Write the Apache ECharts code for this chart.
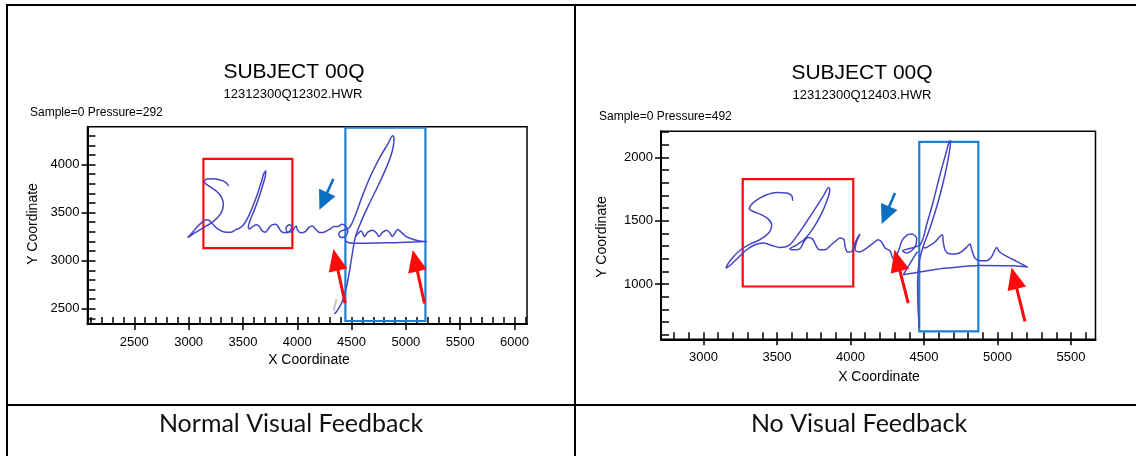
<!DOCTYPE html>
<html><head><meta charset="utf-8">
<script src="https://cdn.jsdelivr.net/npm/echarts@6/dist/echarts.min.js"></script>
<style>html,body{margin:0;padding:0;background:#fff}#c{width:1136px;height:456px}</style>
</head><body><div id="c"></div>
<script>
// ---- Tick values ----
const leftMajorX = [2500, 3000, 3500, 4000, 4500, 5000, 5500, 6000];
const leftMinorX = [2100,2200,2300,2400,2500,2600,2700,2800,2900,3000,3100,3200,3300,3400,3500,3600,3700,3800,3900,4000,4100,4200,4300,4400,4500,4600,4700,4800,4900,5000,5100,5200,5300,5400,5500,5600,5700,5800,5900,6000,6100];
const leftMajorY = [2500, 3000, 3500, 4000];
const leftMinorY = [2400,2500,2600,2700,2800,2900,3000,3100,3200,3300,3400,3500,3600,3700,3800,3900,4000,4100,4200,4300];
const rightMajorX = [3000, 3500, 4000, 4500, 5000, 5500];
const rightMinorX = [2800,2900,3000,3100,3200,3300,3400,3500,3600,3700,3800,3900,4000,4100,4200,4300,4400,4500,4600,4700,4800,4900,5000,5100,5200,5300,5400,5500,5600];
const rightMajorY = [1000, 1500, 2000];
const rightMinorY = [600,700,800,900,1000,1100,1200,1300,1400,1500,1600,1700,1800,1900,2000,2100,2200];

// ---- Signature strokes (data units) ----
const leftStroke1 = [[3369,3778],[3338,3817],[3283,3841],[3221,3851],[3166,3848],[3145,3823],[3160,3796],[3216,3754],[3267,3712],[3304,3656],[3320,3588],[3308,3518],[3267,3448],[3206,3390],[3129,3338],[3053,3285],[3000,3244],[2991,3240],[3016,3268],[3068,3338],[3114,3390],[3160,3424],[3191,3417],[3221,3382],[3267,3330],[3329,3299],[3391,3296],[3435,3322],[3470,3338],[3504,3370],[3550,3458],[3596,3580],[3636,3702],[3670,3820],[3691,3903],[3710,3935],[3705,3875],[3679,3771],[3645,3650],[3605,3528],[3568,3424],[3550,3354],[3559,3330],[3590,3354],[3624,3372],[3651,3354],[3676,3309],[3707,3296],[3737,3338],[3768,3372],[3805,3379],[3829,3344],[3854,3302],[3891,3289],[3928,3302],[3949,3354],[3928,3372],[3897,3344],[3907,3299],[3946,3299],[3976,3344],[3992,3361],[4001,3320],[4035,3289],[4075,3302],[4105,3344],[4139,3361],[4167,3330],[4197,3296],[4234,3292],[4271,3309],[4305,3330],[4336,3354],[4372,3354],[4413,3379],[4450,3354],[4465,3302],[4443,3250],[4404,3240],[4382,3275],[4404,3309],[4465,3330],[4496,3372],[4542,3494],[4603,3684],[4680,3893],[4757,4067],[4833,4212],[4879,4299],[4892,4275],[4874,4135],[4818,3962],[4741,3771],[4658,3580],[4588,3406],[4536,3250],[4505,3059],[4480,2885],[4450,2712],[4413,2573],[4372,2486],[4342,2445]];
const leftStroke2 = [[4536,3250],[4559,3283],[4588,3309],[4619,3250],[4649,3296],[4695,3317],[4732,3285],[4750,3250],[4787,3296],[4824,3317],[4855,3285],[4874,3250],[4904,3296],[4925,3323],[4957,3296],[5003,3250],[5063,3223],[5125,3205],[5192,3198],[5063,3195],[4910,3187],[4757,3184],[4603,3181],[4480,3184],[4443,3205]];
const leftFaint = [[4361,2601],[4347,2538],[4337,2476]];

const rightStroke1 = [[3607,1658],[3600,1700],[3566,1719],[3498,1724],[3430,1705],[3366,1666],[3321,1621],[3312,1595],[3339,1573],[3396,1547],[3441,1513],[3464,1468],[3452,1416],[3418,1376],[3373,1344],[3316,1316],[3253,1271],[3199,1210],[3162,1152],[3153,1126],[3180,1147],[3237,1210],[3294,1271],[3350,1310],[3407,1324],[3464,1305],[3520,1289],[3566,1297],[3593,1316],[3645,1395],[3706,1500],[3770,1613],[3820,1705],[3852,1763],[3859,1745],[3838,1652],[3797,1542],[3747,1442],[3690,1358],[3629,1305],[3588,1279],[3616,1271],[3656,1279],[3684,1336],[3713,1368],[3743,1355],[3765,1305],[3788,1271],[3827,1271],[3861,1302],[3895,1336],[3929,1363],[3956,1350],[3963,1297],[3981,1253],[4008,1257],[4031,1324],[4053,1376],[4065,1395],[4042,1336],[4031,1271],[4060,1253],[4110,1284],[4155,1324],[4189,1350],[4212,1332],[4235,1284],[4269,1263],[4291,1200],[4325,1257],[4348,1336],[4382,1384],[4416,1395],[4450,1363],[4446,1310],[4416,1263],[4382,1245],[4355,1263],[4473,1310],[4518,1468],[4563,1652],[4609,1863],[4650,2035],[4672,2126],[4682,2132],[4672,2035],[4643,1863],[4597,1652],[4541,1442],[4495,1297],[4468,1179],[4457,1021],[4459,836],[4468,652]];
const rightStroke2 = [[4495,1297],[4507,1284],[4541,1305],[4575,1332],[4609,1376],[4625,1389],[4631,1336],[4643,1271],[4665,1242],[4711,1237],[4757,1257],[4795,1297],[4813,1316],[4825,1271],[4847,1205],[4881,1184],[4927,1184],[4961,1218],[4983,1271],[4995,1289],[5012,1257],[5051,1226],[5108,1192],[5165,1158],[5206,1134],[5108,1145],[4881,1147],[4655,1126],[4495,1100],[4405,1084],[4359,1073],[4393,1139],[4427,1205],[4455,1257]];

// ---- Annotations (data units) ----
const leftRedBox = [[3136,4059],[3955,3131]];
const leftBlueBox = [[4443,4382],[5180,2372]];
const leftArrows = [ {from:[4333,3851], to:[4240,3619], c:'blue'}, {from:[4441,2556], to:[4354,3009], c:'red'}, {from:[5171,2556], to:[5085,3000], c:'red'} ];
const rightRedBox = [[3267,1829],[4019,981]];
const rightBlueBox = [[4468,2122],[4870,626]];
const rightArrows = [ {from:[4303,1719], to:[4238,1543], c:'blue'}, {from:[4393,850], to:[4318,1187], c:'red'}, {from:[5187,705], to:[5114,1047], c:'red'} ];

// ---- Text ----
const titles = ['SUBJECT 00Q', 'SUBJECT 00Q'];
const subtitles = ['12312300Q12302.HWR', '12312300Q12403.HWR'];
const sampleTexts = ['Sample=0 Pressure=292', 'Sample=0 Pressure=492'];
const captions = ['Normal Visual Feedback', 'No Visual Feedback'];

const FF = "'Liberation Sans', Arial, sans-serif";
const SIG = '#4545c6';
const RED = '#ff0a0a';
const BLUE_BOX = '#1f80d2';
const BLUE_ARR = '#0a6fc2';

function mainX(g, min, max, ticks) {
  return { gridIndex: g, type: 'value', min: min, max: max, position: 'bottom',
    axisLine: { show: true, onZero: false, lineStyle: { color: '#000', width: 2 } },
    axisTick: { show: true, inside: false, length: 6, customValues: ticks, lineStyle: { color: '#000', width: 1.5 } },
    axisLabel: { show: true, customValues: ticks, margin: 12, color: '#000', fontSize: 13, fontFamily: FF, formatter: v => String(v) },
    splitLine: { show: false } };
}
function innerX(g, min, max, ticks) {
  return { gridIndex: g, type: 'value', min: min, max: max, position: 'bottom',
    axisLine: { show: false, onZero: false },
    axisTick: { show: true, inside: true, length: 7, customValues: ticks, lineStyle: { color: '#000', width: 1.5 } },
    axisLabel: { show: false }, splitLine: { show: false } };
}
function mainY(g, min, max, ticks) {
  return { gridIndex: g, type: 'value', min: min, max: max, position: 'left',
    axisLine: { show: true, onZero: false, lineStyle: { color: '#000', width: 2 } },
    axisTick: { show: true, inside: false, length: 6, customValues: ticks, lineStyle: { color: '#000', width: 1.5 } },
    axisLabel: { show: true, customValues: ticks, margin: 8, color: '#000', fontSize: 13, fontFamily: FF, formatter: v => String(v) },
    splitLine: { show: false } };
}
function innerY(g, min, max, ticks) {
  return { gridIndex: g, type: 'value', min: min, max: max, position: 'left',
    axisLine: { show: false, onZero: false },
    axisTick: { show: true, inside: true, length: 8, customValues: ticks, lineStyle: { color: '#000', width: 1.5 } },
    axisLabel: { show: false }, splitLine: { show: false } };
}
function boxArea(box, color) {
  return [{ coord: box[0], itemStyle: { color: 'rgba(0,0,0,0)', borderColor: color, borderWidth: 2.2 } },
          { coord: box[1], itemStyle: { color: 'rgba(0,0,0,0)', borderColor: color, borderWidth: 2.2 } }];
}
function arrowLines(list) {
  return list.map(a => {
    const isRed = a.c === 'red';
    const st = { color: isRed ? RED : BLUE_ARR, width: isRed ? 3 : 2.6, type: 'solid' };
    return [{ coord: a.from, lineStyle: st, symbol: 'none' },
            { coord: a.to, lineStyle: st, symbol: 'triangle', symbolSize: isRed ? [19, 22] : [18, 19] }];
  });
}
function stroke(data, xi, yi, color, extra) {
  return Object.assign({ type: 'line', xAxisIndex: xi, yAxisIndex: yi, data: data, showSymbol: false, symbol: 'none',
    smooth: 0.3, lineStyle: { color: color, width: 1.5 }, emphasis: { disabled: true }, silent: true, z: 3 }, extra || {});
}
function marks(boxes, arrows) {
  return {
    markArea: { silent: true, label: { show: false }, emphasis: { disabled: true }, data: boxes },
    markLine: { silent: true, symbol: ['none', 'triangle'], symbolSize: [1, 20], label: { show: false }, emphasis: { disabled: true }, animation: false, data: arrowLines(arrows) }
  };
}

const chart = echarts.init(document.getElementById('c'), null, { renderer: 'canvas' });
const option = {
  animation: false,
  backgroundColor: '#fff',
  grid: [
    { left: 87.5, top: 126.7, width: 439.5, height: 197.3, show: true, borderColor: '#000', borderWidth: 1.5, backgroundColor: 'transparent' },
    { left: 661, top: 131.2, width: 434.5, height: 208.1, show: true, borderColor: '#000', borderWidth: 1.5, backgroundColor: 'transparent' }
  ],
  xAxis: [ mainX(0, 2069, 6115, leftMajorX), innerX(0, 2069, 6115, leftMinorX),
           mainX(1, 2711, 5667, rightMajorX), innerX(1, 2711, 5667, rightMinorX) ],
  yAxis: [ mainY(0, 2341, 4393, leftMajorY), innerY(0, 2341, 4393, leftMinorY),
           mainY(1, 564, 2207, rightMajorY), innerY(1, 564, 2207, rightMinorY) ],
  series: [
    stroke(leftStroke1, 0, 0, SIG, marks([boxArea(leftRedBox, RED), boxArea(leftBlueBox, BLUE_BOX)], leftArrows)),
    stroke(leftStroke2, 0, 0, SIG),
    stroke(leftFaint, 0, 0, '#c8c8d0', { lineStyle: { color: '#c4c4cc', width: 2 } }),
    stroke(rightStroke1, 2, 2, SIG, marks([boxArea(rightRedBox, RED), boxArea(rightBlueBox, BLUE_BOX)], rightArrows)),
    stroke(rightStroke2, 2, 2, SIG)
  ],
  graphic: [
    { type: 'line', shape: { x1: 6, y1: 5, x2: 1136, y2: 5 }, style: { stroke: '#000', lineWidth: 2 } },
    { type: 'line', shape: { x1: 7, y1: 4, x2: 7, y2: 456 }, style: { stroke: '#000', lineWidth: 2 } },
    { type: 'line', shape: { x1: 575, y1: 5, x2: 575, y2: 456 }, style: { stroke: '#000', lineWidth: 2 } },
    { type: 'line', shape: { x1: 6, y1: 405, x2: 1136, y2: 405 }, style: { stroke: '#000', lineWidth: 2 } },

    { type: 'text', x: 294, y: 72, style: { text: titles[0], fontSize: 21, fontFamily: FF, fill: '#000', align: 'center', verticalAlign: 'middle' } },
    { type: 'text', x: 293, y: 94, style: { text: subtitles[0], fontSize: 13, fontFamily: FF, fill: '#000', align: 'center', verticalAlign: 'middle' } },
    { type: 'text', x: 30, y: 113, style: { text: sampleTexts[0], fontSize: 12, fontFamily: FF, fill: '#000', align: 'left', verticalAlign: 'middle' } },
    { type: 'text', x: 33, y: 224, rotation: Math.PI / 2, style: { text: 'Y Coordinate', fontSize: 14, fontFamily: FF, fill: '#000', align: 'center', verticalAlign: 'middle' } },
    { type: 'text', x: 309, y: 360, style: { text: 'X Coordinate', fontSize: 14, fontFamily: FF, fill: '#000', align: 'center', verticalAlign: 'middle' } },

    { type: 'text', x: 862, y: 73, style: { text: titles[1], fontSize: 21, fontFamily: FF, fill: '#000', align: 'center', verticalAlign: 'middle' } },
    { type: 'text', x: 862, y: 95, style: { text: subtitles[1], fontSize: 13, fontFamily: FF, fill: '#000', align: 'center', verticalAlign: 'middle' } },
    { type: 'text', x: 599, y: 117, style: { text: sampleTexts[1], fontSize: 12, fontFamily: FF, fill: '#000', align: 'left', verticalAlign: 'middle' } },
    { type: 'text', x: 602, y: 237, rotation: Math.PI / 2, style: { text: 'Y Coordinate', fontSize: 14, fontFamily: FF, fill: '#000', align: 'center', verticalAlign: 'middle' } },
    { type: 'text', x: 879, y: 377, style: { text: 'X Coordinate', fontSize: 14, fontFamily: FF, fill: '#000', align: 'center', verticalAlign: 'middle' } },

    { type: 'text', x: 291, y: 424, style: { text: captions[0], fontSize: 25, fontFamily: "Lato, 'Open Sans', sans-serif", fill: '#111', align: 'center', verticalAlign: 'middle' } },
    { type: 'text', x: 859, y: 424, style: { text: captions[1], fontSize: 25, fontFamily: "Lato, 'Open Sans', sans-serif", fill: '#111', align: 'center', verticalAlign: 'middle' } }
  ]
};
chart.setOption(option);
</script>
</body></html>
